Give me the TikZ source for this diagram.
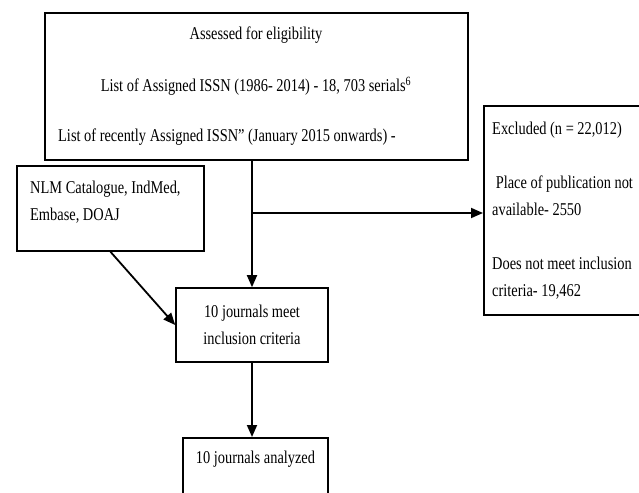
\documentclass[tikz,border=0pt]{standalone}
\usepackage{fontspec}
\setmainfont{Liberation Serif}[FakeStretch=0.8]
\usetikzlibrary{arrows.meta,positioning}

\tikzset{
    box/.style={draw, rectangle, line width=1.6pt, inner sep=0pt},
    txt/.style={inner sep=0pt, font=\fontsize{18}{27}\selectfont},
    flow/.style={line width=1.8pt, -{Triangle[length=12pt, width=10pt]}},
}

\begin{document}
\begin{tikzpicture}[x=1pt, y=-1pt]

    \useasboundingbox (0,0) rectangle (639,492);

    % boxes
    \node[box, minimum width=423pt, minimum height=147pt] (assess) at (256.5, 86.5) { };
    \node[box, minimum width=187pt, minimum height=85pt] (nlm) at (110.5, 208.5) { };
    \node[  box,
            anchor=north west,
            minimum width=170pt,
            minimum height=209pt] (excl) at (483, 105) { };
    \node[  box, txt,
            align=center,
            minimum width=152pt,
            minimum height=74pt] (incl) at (252, 325)
            {10 journals meet\\inclusion criteria};
    \node[  box,
            anchor=north,
            minimum width=145pt,
            minimum height=110pt] (anal) at (255.5, 437) { };

    % texts
    \node[txt, anchor=base] (elig) at (256, 40) {Assessed for eligibility};
    \node[txt, anchor=base] (issn) at (256, 92)
        {List of Assigned ISSN (1986- 2014) - 18, 703 serials\textsuperscript{6}};
    \node[txt, anchor=base west] (recent) at (58, 141)
        {List of recently Assigned ISSN” (January 2015 onwards) -};
    \node[txt, anchor=north west, align=left] (nlmtxt) at (30, 181)
        {NLM Catalogue, IndMed,\\Embase, DOAJ};
    \node[txt, anchor=north west, align=left] (excltxt) at (492, 122)
        {Excluded (n = 22,012)\\[27pt]
         \ Place of publication not\\available- 2550\\[27pt]
         Does not meet inclusion\\criteria- 19,462};
    \node[txt, anchor=base] (analtxt) at (255.5, 463) {10 journals analyzed};

    % connectors
    \coordinate (split) at (incl.north |- 0,213);
    \draw[flow] (incl.north |- assess.south) -- (incl.north);
    \draw[flow] (split) -- (excl.west |- split);
    \draw[flow] (nlm.south) -- (incl.west);
    \draw[flow] (incl.south) -- (incl.south |- anal.north);

\end{tikzpicture}
\end{document}
